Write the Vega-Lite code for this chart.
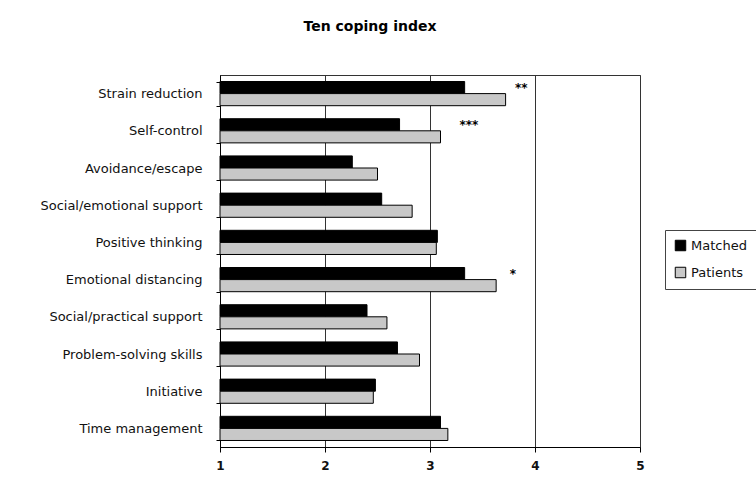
{
  "$schema": "https://vega.github.io/schema/vega-lite/v6.json",
  "width": 420,
  "height": 372,
  "autosize": {"type": "none"},
  "padding": {"left": 220, "top": 75, "right": 116, "bottom": 54},
  "background": "white",
  "title": {"text": "Ten coping index", "font": "DejaVu Sans", "fontSize": 14, "fontWeight": "bold", "color": "#000", "anchor": "middle", "dx": -60, "offset": 35},
  "datasets": {
    "bars": [
      {"scale": "Strain reduction", "group": "Matched", "value": 3.33},
      {"scale": "Strain reduction", "group": "Patients", "value": 3.72},
      {"scale": "Self-control", "group": "Matched", "value": 2.71},
      {"scale": "Self-control", "group": "Patients", "value": 3.10},
      {"scale": "Avoidance/escape", "group": "Matched", "value": 2.26},
      {"scale": "Avoidance/escape", "group": "Patients", "value": 2.50},
      {"scale": "Social/emotional support", "group": "Matched", "value": 2.54},
      {"scale": "Social/emotional support", "group": "Patients", "value": 2.83},
      {"scale": "Positive thinking", "group": "Matched", "value": 3.07},
      {"scale": "Positive thinking", "group": "Patients", "value": 3.06},
      {"scale": "Emotional distancing", "group": "Matched", "value": 3.33},
      {"scale": "Emotional distancing", "group": "Patients", "value": 3.63},
      {"scale": "Social/practical support", "group": "Matched", "value": 2.40},
      {"scale": "Social/practical support", "group": "Patients", "value": 2.59},
      {"scale": "Problem-solving skills", "group": "Matched", "value": 2.69},
      {"scale": "Problem-solving skills", "group": "Patients", "value": 2.90},
      {"scale": "Initiative", "group": "Matched", "value": 2.48},
      {"scale": "Initiative", "group": "Patients", "value": 2.46},
      {"scale": "Time management", "group": "Matched", "value": 3.10},
      {"scale": "Time management", "group": "Patients", "value": 3.17}
    ],
    "stars": [
      {"scale": "Strain reduction", "group": "Matched", "value": 3.87, "label": "**"},
      {"scale": "Self-control", "group": "Matched", "value": 3.37, "label": "***"},
      {"scale": "Emotional distancing", "group": "Matched", "value": 3.79, "label": "*"}
    ]
  },
  "layer": [
    {
      "data": {"name": "bars"},
      "mark": {"type": "bar", "stroke": "#000", "strokeWidth": 1},
      "encoding": {
        "y": {"field": "scale", "type": "nominal", "sort": null,
              "scale": {"paddingInner": 0.35, "paddingOuter": 0.175},
              "axis": {"title": null, "labelFont": "DejaVu Sans", "labelFontSize": 13, "labelColor": "#111", "tickBand": "extent", "tickSize": 4, "tickColor": "#000", "domainColor": "#000", "labelPadding": 14, "labelLimit": 260}},
        "yOffset": {"field": "group", "type": "nominal", "sort": ["Matched", "Patients"], "scale": {"domain": ["Matched", "Patients"]}},
        "x": {"field": "value", "type": "quantitative",
              "scale": {"domain": [1, 5], "nice": false, "zero": false},
              "axis": {"title": null, "values": [1, 2, 3, 4, 5], "format": "d", "labelFlush": false, "grid": true, "gridColor": "#333", "gridOpacity": 1, "tickColor": "#000", "tickSize": 5, "domainColor": "#000", "labelFont": "DejaVu Sans", "labelFontSize": 12, "labelFontWeight": "bold", "labelColor": "#111", "labelPadding": 8}},
        "x2": {"datum": 1},
        "fill": {"field": "group", "type": "nominal", "sort": ["Matched", "Patients"],
                 "scale": {"domain": ["Matched", "Patients"], "range": ["#000000", "#c8c8c8"]},
                 "legend": {"title": null, "orient": "none", "legendX": 445, "legendY": 155, "strokeColor": "#444", "padding": 9, "symbolType": "square", "symbolSize": 110, "symbolStrokeColor": "#000", "symbolStrokeWidth": 1, "labelFont": "DejaVu Sans", "labelFontSize": 13, "labelColor": "#111", "rowPadding": 12, "fillColor": "white"}}
      }
    },
    {
      "data": {"name": "stars"},
      "mark": {"type": "text", "font": "DejaVu Sans", "fontSize": 12, "fontWeight": "bold", "align": "center", "baseline": "middle", "color": "#000"},
      "encoding": {
        "y": {"field": "scale", "type": "nominal", "sort": null},
        "yOffset": {"field": "group", "type": "nominal"},
        "x": {"field": "value", "type": "quantitative"},
        "text": {"field": "label", "type": "nominal"}
      }
    }
  ],
  "config": {
    "view": {"stroke": "#333", "strokeWidth": 1},
    "axis": {"grid": false}
  }
}
